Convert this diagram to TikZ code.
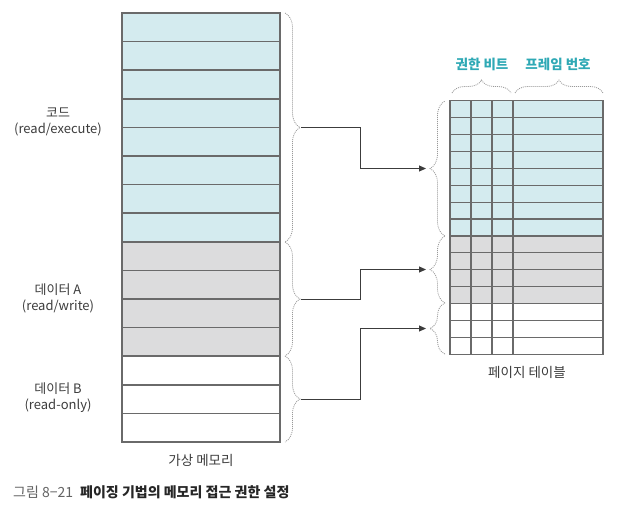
\documentclass[tikz,border=0pt]{standalone}
\usepackage{fontspec}
\setmainfont{Noto Sans CJK KR}
\usetikzlibrary{decorations.pathreplacing,arrows.meta}
\definecolor{cellcyan}{HTML}{D4EBEF}
\definecolor{cellgray}{HTML}{DCDCDD}
\definecolor{edgegray}{HTML}{6A6A6A}
\definecolor{hdrteal}{HTML}{2FA9B5}
\definecolor{txtgray}{HTML}{3C3C3C}
\tikzset{
  memcell/.style={draw=edgegray,line width=1.5pt},
  tabcell/.style={draw=edgegray,line width=1.2pt},
  dbrace/.style={draw=gray!80,line width=0.8pt,dash pattern=on 1pt off 1pt,decorate,decoration={brace,amplitude=#1}},
  dbrace/.default=15pt,
  conn/.style={draw=txtgray,line width=1pt,-{Triangle[length=7pt,width=6pt]},shorten >=3pt},
  lbl/.style={font=\fontsize{13}{16}\selectfont,text=txtgray,align=center},
  hdr/.style={font=\fontsize{13.5}{16}\selectfont\bfseries,text=hdrteal},
}
\begin{document}
\begin{tikzpicture}[x=1pt,y=-1pt]
\useasboundingbox (0,0) rectangle (618,507);
% virtual memory: fills
\fill[cellcyan] (122,13) rectangle (280,{13+28.6*8});
\fill[cellgray] (122,{13+28.6*8}) rectangle (280,{13+28.6*12});
% virtual memory: cell borders
\foreach \i in {0,...,14}
  \draw[memcell] (122,{13+28.6*\i}) rectangle (280,{13+28.6*(\i+1)});
% page table: fills
\fill[cellcyan] (450,100.7) rectangle (603,{100.7+16.9*8});
\fill[cellgray] (450,{100.7+16.9*8}) rectangle (603,{100.7+16.9*12});
% page table: cell borders
\foreach \i in {0,...,14}
  \foreach \xa/\xb in {450/471,471/492,492/513,513/603}
    \draw[tabcell] (\xa,{100.7+16.9*\i}) rectangle (\xb,{100.7+16.9*(\i+1)});
% left braces
\draw[dbrace] (285,13) -- (285,242);
\draw[dbrace] (285,242) -- (285,356);
\draw[dbrace] (285,356) -- (285,442);
\coordinate (codeL) at (301,127.5);
\coordinate (dataL) at (301,299);
\coordinate (roL) at (301,399);
% right braces
\draw[dbrace] (445,236) -- (445,101);
\draw[dbrace] (445,303) -- (445,236);
\draw[dbrace] (445,354) -- (445,303);
\coordinate (codeR) at (429,168.5);
\coordinate (dataR) at (429,269.5);
\coordinate (roR) at (429,328.5);
% top braces
\draw[dbrace=13pt] (452,93) -- (511,93);
\draw[dbrace=13pt] (515,93) -- (603,93);
% connectors
\draw[conn] (codeL) -- ++(59,0) |- (codeR);
\draw[conn] (dataL) -- ++(59,0) |- (dataR);
\draw[conn] (roL) -- ++(59,0) |- (roR);
% labels
\node[lbl] (code) at (58,122) {코드\\(read/execute)};
\node[lbl] (dataA) at (58,298) {데이터 A\\(read/write)};
\node[lbl] (dataB) at (58,398) {데이터 B\\(read-only)};
\node[lbl,font=\fontsize{13.5}{16}\selectfont] (vm) at (201,460) {가상 메모리};
\node[lbl,font=\fontsize{13.5}{16}\selectfont] (pt) at (527,372) {페이지 테이블};
\node[hdr] (perm) at (482,64) {권한 비트};
\node[hdr] (frame) at (558,64) {프레임 번호};
\node[anchor=west,inner sep=0pt,font=\fontsize{14}{16}\selectfont,text=txtgray!80] (cap) at (13,492) {그림 8−21\hspace{7pt}{\bfseries\color{black!85}페이징 기법의 메모리 접근 권한 설정}};
\end{tikzpicture}
\end{document}
